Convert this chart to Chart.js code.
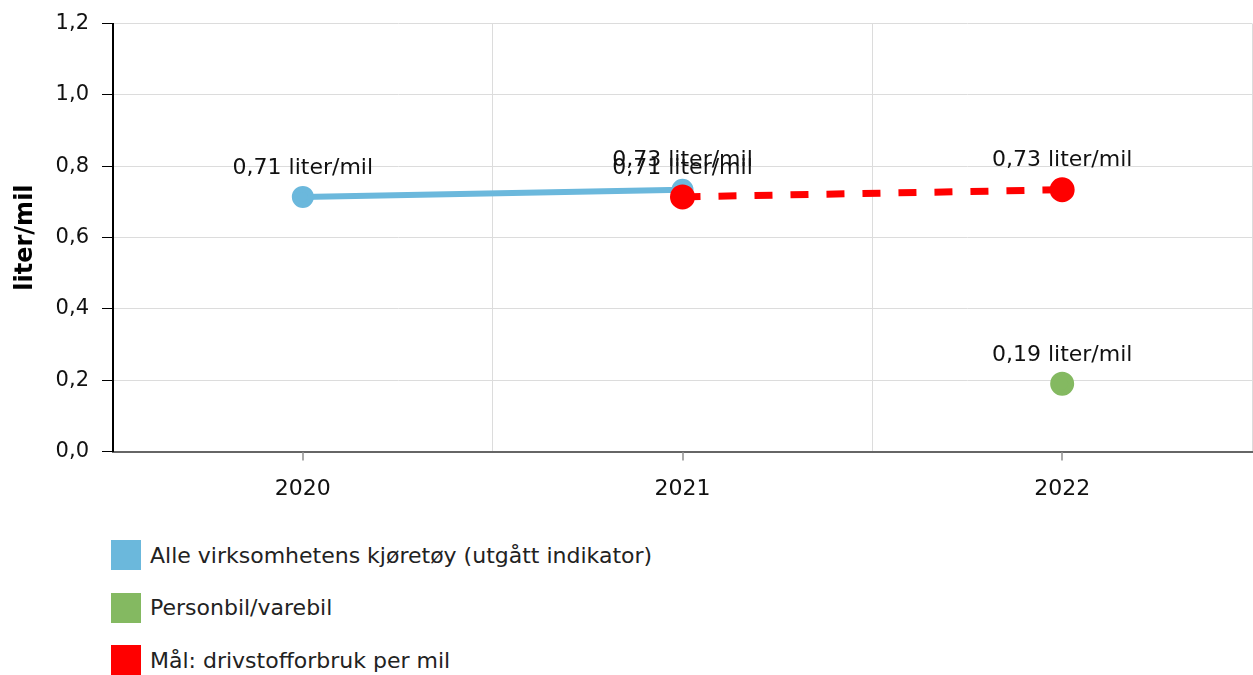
<!DOCTYPE html>
<html>
<head>
<meta charset="utf-8">
<script src="https://cdn.jsdelivr.net/npm/chart.js@4"></script>
<style>
  html, body { margin: 0; background: #fff; overflow: hidden; font-family: "DejaVu Sans", Verdana, sans-serif; }
  #wrap { position: absolute; left: 0; top: 0; width: 1253px; height: 526px; }
  #legend { position: absolute; left: 111px; top: 540px; }
  .leg-item { display: flex; align-items: center; height: 30px; margin-bottom: 22.5px; font-size: 22px; color: #222; white-space: nowrap; }
  .leg-box { width: 30px; height: 30px; margin-right: 9px; flex: none; }
</style>
</head>
<body>
<div id="wrap"><canvas id="fuelChart"></canvas></div>
<div id="legend"></div>
<script>
// ── DATA ──────────────────────────────────────────────────────
const years = ["2020", "2021", "2022"];
const alleKjoretoy = [0.714, 0.734, null];
const personbil    = [null, null, 0.19];
const maal         = [null, 0.714, 0.734];
const yTicks = [0, 0.2, 0.4, 0.6, 0.8, 1.0, 1.2];
const unit = "liter/mil";

const fmt = v => v.toFixed(2).replace(".", ",");

// labels over each point
const pointLabels = {
  id: "pointLabels",
  afterDatasetsDraw(chart) {
    const ctx = chart.ctx;
    ctx.save();
    ctx.font = "22px 'DejaVu Sans'";
    ctx.fillStyle = "#111";
    ctx.textAlign = "center";
    ctx.textBaseline = "middle";
    chart.data.datasets.forEach((ds, i) => {
      chart.getDatasetMeta(i).data.forEach((pt, j) => {
        const v = ds.data[j];
        if (v == null) return;
        ctx.fillText(fmt(v) + " " + unit, pt.x, pt.y - 29);
      });
    });
    ctx.restore();
  }
};

// small tick marks under the x axis at each category centre
const xCenterTicks = {
  id: "xCenterTicks",
  afterDraw(chart) {
    const ctx = chart.ctx, x = chart.scales.x, y0 = chart.chartArea.bottom;
    ctx.save();
    ctx.strokeStyle = "#aaa";
    ctx.lineWidth = 2;
    years.forEach((_, i) => {
      const px = Math.round(x.getPixelForValue(i));
      ctx.beginPath();
      ctx.moveTo(px, y0 + 1);
      ctx.lineTo(px, y0 + 9);
      ctx.stroke();
    });
    ctx.restore();
  }
};

const datasets = [
  {
    label: "Alle virksomhetens kjøretøy (utgått indikator)",
    data: alleKjoretoy,
    borderColor: "#6bb8dc",
    backgroundColor: "#6bb8dc",
    borderWidth: 6,
    pointRadius: 8,
    pointHoverRadius: 8,
    order: 2,
  },
  {
    label: "Personbil/varebil",
    data: personbil,
    borderColor: "#84b961",
    backgroundColor: "#84b961",
    borderWidth: 6,
    pointRadius: 9,
    pointHoverRadius: 9,
    order: 1,
  },
  {
    label: "Mål: drivstofforbruk per mil",
    data: maal,
    borderColor: "#ff0000",
    backgroundColor: "#ff0000",
    borderWidth: 7,
    borderDash: [18, 18],
    pointRadius: 9,
    pointHoverRadius: 9,
    order: 0,
  },
];

new Chart(document.getElementById("fuelChart").getContext("2d"), {
  type: "line",
  data: { labels: years, datasets },
  options: {
    responsive: true,
    maintainAspectRatio: false,
    animation: false,
    spanGaps: false,
    layout: { autoPadding: false, padding: { top: 12, right: 1, bottom: 0, left: 7 } },
    plugins: { legend: { display: false }, tooltip: { enabled: false } },
    scales: {
      x: {
        offset: true,
        afterFit: s => { s.paddingLeft = 0; s.paddingRight = 0; },
        grid: { offset: true, color: "#dcdcdc", drawTicks: false },
        border: { color: "#666", width: 2 },
        ticks: { padding: 24, color: "#111", font: { family: "DejaVu Sans", size: 22 } },
      },
      y: {
        min: 0,
        max: 1.2,
        afterBuildTicks: s => { s.ticks = yTicks.map(v => ({ value: v })); },
        afterFit: s => { s.width = 106; },
        grid: { color: "#dcdcdc", tickColor: "#000", tickLength: 11 },
        border: { color: "#000", width: 2 },
        ticks: {
          padding: 13,
          color: "#111",
          font: { family: "DejaVu Sans", size: 21, lineHeight: 1 },
          callback: v => Number(v).toFixed(1).replace(".", ","),
        },
        title: {
          display: true,
          text: unit,
          color: "#000",
          font: { family: "DejaVu Sans", size: 24, weight: "bold" },
        },
      },
    },
  },
  plugins: [pointLabels, xCenterTicks],
});

// ── LEGEND (vertical, below the chart) ───────────────────────
document.getElementById("legend").innerHTML = datasets.map(d => `
  <div class="leg-item">
    <span class="leg-box" style="background:${d.borderColor}"></span>${d.label}
  </div>`).join("");
</script>
</body>
</html>
